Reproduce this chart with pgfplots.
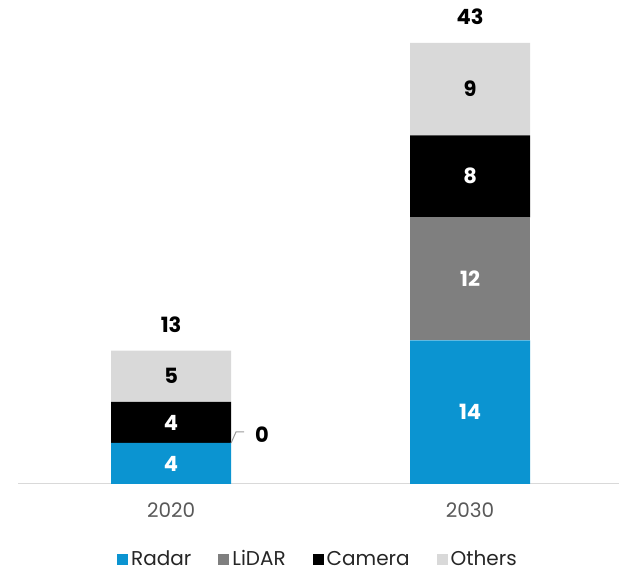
\documentclass[border=0pt]{standalone}
\usepackage{pgfplots}
\pgfplotsset{compat=1.18}
\usepackage{fontspec}
\setmainfont{Poppins}
\definecolor{radar}{HTML}{0B94D1}
\definecolor{lidar}{HTML}{7F7F7F}
\definecolor{camera}{HTML}{000000}
\definecolor{others}{HTML}{D9D9D9}
\definecolor{axisgray}{HTML}{D9D9D9}
\definecolor{ticktext}{HTML}{595959}
\begin{document}
\begin{tikzpicture}
\useasboundingbox (0,0) rectangle (619pt,572pt);
\pgfplotsset{
  geom/.style={
    scale only axis, width=601pt, height=512.8pt,
    xmin=-0.512, xmax=1.498, ymin=0, ymax=50,
    at={(18pt,88pt)}, anchor=south west, clip=false,
  }
}
\begin{axis}[geom,
  ybar stacked, bar width=120pt,
  axis x line*=bottom, hide y axis,
  x axis line style={draw=axisgray, line width=1pt, -},
  xtick={0,1}, xticklabels={2020,2030},
  major tick length=0pt,
  xticklabel style={text=ticktext, font=\fontsize{20}{24}\selectfont, yshift=-15pt},
  legend columns=-1,
  legend style={at={(0.5,-0.146)}, anchor=center, draw=none, fill=none,
    font=\fontsize{20}{24}\selectfont, text=black!85, inner ysep=0pt,
    /tikz/every odd column/.append style={column sep=0pt},
    /tikz/every even column/.append style={column sep=24pt},
    nodes={inner xsep=3pt, inner ysep=0pt}},
  legend image code/.code={\fill[#1] (0pt,-6pt) rectangle (11pt,5pt);},
]
\addplot[fill=radar, draw=none] coordinates {(0,4) (1,14)};
\addlegendentry{Radar}
\addplot[fill=lidar, draw=none] coordinates {(0,0) (1,12)};
\addlegendentry{LiDAR}
\addplot[fill=camera, draw=none] coordinates {(0,4) (1,8)};
\addlegendentry{Camera}
\addplot[fill=others, draw=none] coordinates {(0,5) (1,9)};
\addlegendentry{Others}
\end{axis}
\begin{axis}[geom, hide axis]
\addplot[draw=none, mark=none, nodes near coords, point meta=explicit symbolic,
  every node near coord/.style={anchor=center, text=white, font=\fontsize{21}{24}\selectfont\bfseries}]
  coordinates {(0,2)[4] (0,6)[4] (1,7)[14] (1,20)[12] (1,30)[8]};
\addplot[draw=none, mark=none, nodes near coords, point meta=explicit symbolic,
  every node near coord/.style={anchor=center, text=black, font=\fontsize{21}{24}\selectfont\bfseries}]
  coordinates {(0,10.5)[5] (1,38.5)[9] (0,15.5)[13] (1,45.6)[43] (0.304,4.8)[0]};
\addplot[draw=lidar!80, line width=1pt, mark=none] coordinates {(0.2007,4.0) (0.217,5.07) (0.244,5.07)};
\end{axis}
\end{tikzpicture}
\end{document}
